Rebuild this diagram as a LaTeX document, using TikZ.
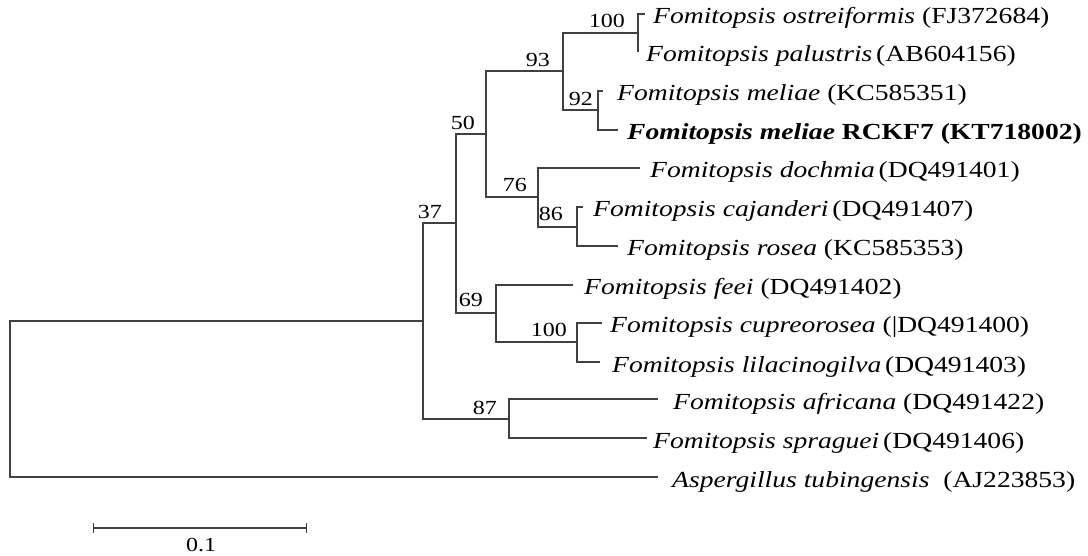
\documentclass[tikz,border=0pt]{standalone}
\usepackage{fontspec}
\setmainfont{Liberation Serif}[FakeStretch=1.2]
\usetikzlibrary{arrows.meta}
\begin{document}
\begin{tikzpicture}[x=1pt,y=-1pt,
  br/.style={draw=black!75, line width=1.2pt},
  leaf/.style={anchor=base west, inner sep=0pt, font=\fontsize{23}{27}\selectfont\itshape},
  bs/.style={anchor=base east, inner sep=0pt, font=\fontsize{20}{24}\selectfont}]
\useasboundingbox (0,0) rectangle (1088,556);
% internal nodes
\coordinate (root) at (10,399);
\coordinate (nB) at (423,321);
\coordinate (nA) at (456,223);
\coordinate (nX) at (486,134);
\coordinate (n93) at (563,71);
\coordinate (n100a) at (638,33);
\coordinate (n92) at (598,110);
\coordinate (n76) at (538,197);
\coordinate (n86) at (577,227);
\coordinate (n69) at (496,313);
\coordinate (n100b) at (577,342);
\coordinate (n87) at (509,419);
% tips
\coordinate (t1) at (645,14);
\coordinate (t2) at (638,52);
\coordinate (t3) at (603,91);
\coordinate (t4) at (618,130);
\coordinate (t5) at (640,168);
\coordinate (t6) at (583,207);
\coordinate (t7) at (618,246);
\coordinate (t8) at (573,285);
\coordinate (t9) at (602,323);
\coordinate (t10) at (600,362);
\coordinate (t11) at (658,399);
\coordinate (t12) at (647,438);
\coordinate (t13) at (658,477);
% branches
\draw[br] (root) |- (nB);
\draw[br] (root) |- (t13);
\draw[br] (nB) |- (nA);
\draw[br] (nB) |- (n87);
\draw[br] (nA) |- (nX);
\draw[br] (nA) |- (n69);
\draw[br] (nX) |- (n93);
\draw[br] (nX) |- (n76);
\draw[br] (n93) |- (n100a);
\draw[br] (n93) |- (n92);
\draw[br] (n100a) |- (t1);
\draw[br] (n100a) |- (t2);
\draw[br] (n92) |- (t3);
\draw[br] (n92) |- (t4);
\draw[br] (n76) |- (t5);
\draw[br] (n76) |- (n86);
\draw[br] (n86) |- (t6);
\draw[br] (n86) |- (t7);
\draw[br] (n69) |- (t8);
\draw[br] (n69) |- (n100b);
\draw[br] (n100b) |- (t9);
\draw[br] (n100b) |- (t10);
\draw[br] (n87) |- (t11);
\draw[br] (n87) |- (t12);
% leaf labels
\node[leaf] (l1) at (653,24) {Fomitopsis ostreiformis \textup{(FJ372684)}};
\node[leaf] (l2) at (646,62) {Fomitopsis palustris\,\textup{(AB604156)}};
\node[leaf] (l3) at (617,101) {Fomitopsis meliae \textup{(KC585351)}};
\node[leaf] (l4) at (627,140) {\bfseries Fomitopsis meliae \textup{RCKF7 (KT718002)}};
\node[leaf] (l5) at (650,178) {Fomitopsis dochmia\,\textup{(DQ491401)}};
\node[leaf] (l6) at (593,217) {Fomitopsis cajanderi\,\textup{(DQ491407)}};
\node[leaf] (l7) at (627,256) {Fomitopsis rosea \textup{(KC585353)}};
\node[leaf] (l8) at (584,295) {Fomitopsis feei \textup{(DQ491402)}};
\node[leaf] (l9) at (610,333) {Fomitopsis cupreorosea \textup{(|DQ491400)}};
\node[leaf] (l10) at (612,372) {Fomitopsis lilacinogilva\,\textup{(DQ491403)}};
\node[leaf] (l11) at (673,409) {Fomitopsis africana \textup{(DQ491422)}};
\node[leaf] (l12) at (653,448) {Fomitopsis spraguei\,\textup{(DQ491406)}};
\node[leaf] (l13) at (672,487) {Aspergillus tubingensis \ \textup{(AJ223853)}};
% bootstrap values
\node[bs] (b37) at (442,219) {37};
\node[bs] (b50) at (475,130) {50};
\node[bs] (b93) at (550,67) {93};
\node[bs] (b100a) at (625,28) {100};
\node[bs] (b92) at (593,106) {92};
\node[bs] (b76) at (527,192) {76};
\node[bs] (b86) at (563,221) {86};
\node[bs] (b69) at (483,307) {69};
\node[bs] (b100b) at (567,337) {100};
\node[bs] (b87) at (497,414) {87};
% scale bar
\coordinate (s1) at (93,528);
\coordinate (s2) at (307,528);
\draw[br, {Bar[width=10pt]}-{Bar[width=10pt]}] (s1) -- (s2);
\node[bs, anchor=base] (sl) at (201,551) {0.1};
\end{tikzpicture}
\end{document}
